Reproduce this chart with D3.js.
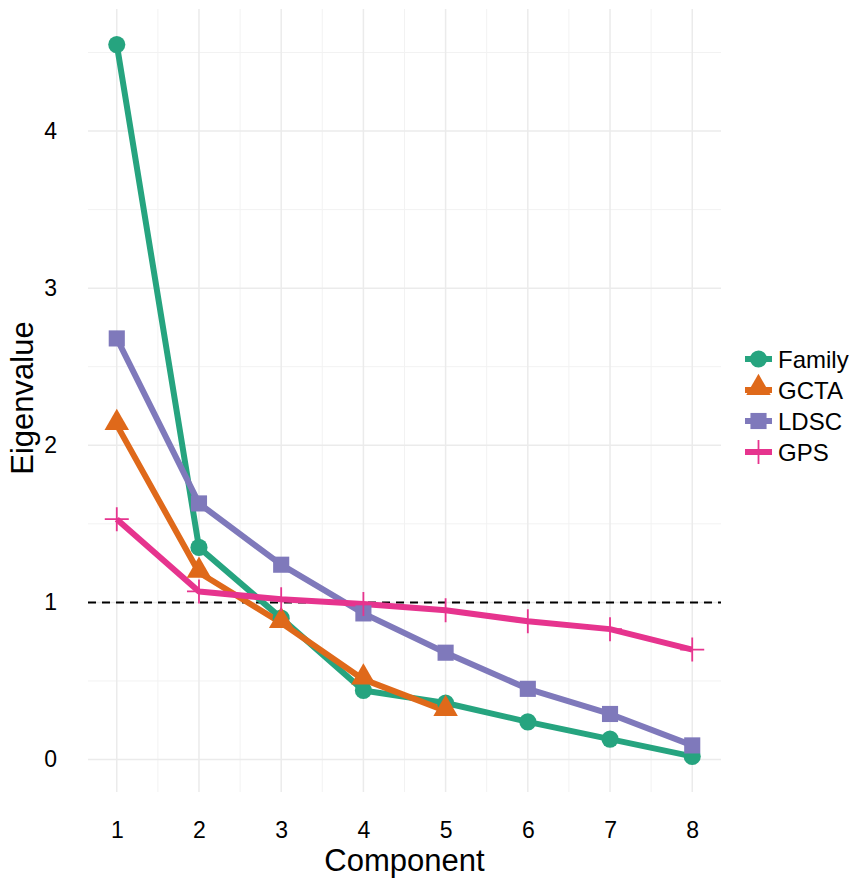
<!DOCTYPE html>
<html>
  <head>
    <script src="https://d3js.org/d3.v7.min.js"></script>
    <style>
      body { margin: 0; background: #fff; }
      text { font-family: "Liberation Sans", Arial, sans-serif; fill: #000; }
    </style>
  </head>
  <body>
    <script>
      // values
      var components = [1, 2, 3, 4, 5, 6, 7, 8];
      var seriesNames = ["Family", "GCTA", "LDSC", "GPS"];
      var family = [4.55, 1.35, 0.90, 0.44, 0.36, 0.24, 0.13, 0.02];
      var gcta = [2.13, 1.19, 0.87, 0.51, 0.31];
      var ldsc = [2.68, 1.63, 1.24, 0.93, 0.68, 0.45, 0.29, 0.09];
      var gps = [1.53, 1.07, 1.02, 0.99, 0.95, 0.88, 0.83, 0.70];
      var yTicks = [0, 1, 2, 3, 4];
      var colors = ["#26A47F", "#DF691A", "#7F79BB", "#E6348E"];
      var threshold = 1;

      var series = [family, gcta, ldsc, gps].map(function(vals, i) {
        return {
          name: seriesNames[i],
          color: colors[i],
          values: vals.map(function(v, j) { return { x: components[j], y: v }; })
        };
      });

      var W = 854, H = 879;
      var margin = { top: 9, right: 133, bottom: 87, left: 88 };
      var width = W - margin.left - margin.right,
          height = H - margin.top - margin.bottom;

      var svg = d3.select("body").append("svg")
        .attr("width", W)
        .attr("height", H);

      var g = svg.append("g")
        .attr("transform", "translate(" + margin.left + "," + margin.top + ")");

      // ggplot-like expansion
      var allY = d3.merge([family, gcta, ldsc, gps]);
      var yMin = d3.min(allY), yMax = d3.max(allY);
      var yPad = (yMax - yMin) * 0.05;
      var x = d3.scaleLinear().domain([1 - 0.35, 8 + 0.35]).range([0, width]);
      var y = d3.scaleLinear().domain([yMin - yPad, yMax + yPad]).range([height, 0]);

      // grid: minor then major
      var xMinor = d3.range(1.5, 8, 1);
      var yMinor = d3.range(0.5, 4.6, 1);
      g.selectAll(".gx-minor").data(xMinor).enter().append("line")
        .attr("x1", function(d) { return x(d); }).attr("x2", function(d) { return x(d); })
        .attr("y1", 0).attr("y2", height)
        .attr("stroke", "#f2f2f2").attr("stroke-width", 1);
      g.selectAll(".gy-minor").data(yMinor).enter().append("line")
        .attr("y1", function(d) { return y(d); }).attr("y2", function(d) { return y(d); })
        .attr("x1", 0).attr("x2", width)
        .attr("stroke", "#f2f2f2").attr("stroke-width", 1);
      g.selectAll(".gx").data(components).enter().append("line")
        .attr("x1", function(d) { return x(d); }).attr("x2", function(d) { return x(d); })
        .attr("y1", 0).attr("y2", height)
        .attr("stroke", "#ebebeb").attr("stroke-width", 1.5);
      g.selectAll(".gy").data(yTicks).enter().append("line")
        .attr("y1", function(d) { return y(d); }).attr("y2", function(d) { return y(d); })
        .attr("x1", 0).attr("x2", width)
        .attr("stroke", "#ebebeb").attr("stroke-width", 1.5);

      // axes (labels only)
      var xAxis = g.append("g")
        .attr("transform", "translate(0," + height + ")")
        .call(d3.axisBottom(x).tickValues(components).tickFormat(d3.format("d")).tickSize(0).tickPadding(30));
      var yAxis = g.append("g")
        .call(d3.axisLeft(y).tickValues(yTicks).tickFormat(d3.format("d")).tickSize(0).tickPadding(31));
      [xAxis, yAxis].forEach(function(a) {
        a.select(".domain").remove();
        a.selectAll("text").attr("font-size", 23).attr("font-family", "Liberation Sans, Arial, sans-serif").attr("fill", "#000");
      });

      // threshold line
      g.append("line")
        .attr("x1", 0).attr("x2", width)
        .attr("y1", y(threshold)).attr("y2", y(threshold))
        .attr("stroke", "#000").attr("stroke-width", 2)
        .attr("stroke-dasharray", "8,6");

      var line = d3.line().x(function(d) { return x(d.x); }).y(function(d) { return y(d.y); });

      g.selectAll(".series").data(series).enter().append("path")
        .attr("d", function(d) { return line(d.values); })
        .attr("fill", "none")
        .attr("stroke", function(d) { return d.color; })
        .attr("stroke-width", 6)
        .attr("stroke-linejoin", "round");

      var symbols = [d3.symbolCircle, d3.symbolTriangle, d3.symbolSquare, null];
      var sizes = [230, 260, 260, 0];

      function drawMarker(sel, i, color) {
        if (symbols[i]) {
          var s = sel.append("path")
            .attr("d", d3.symbol().type(symbols[i]).size(sizes[i])())
            .attr("fill", color);
          if (i === 1) s.attr("transform", "translate(0,-2)");
        } else {
          sel.append("path")
            .attr("d", "M-12,0H12M0,-12V12")
            .attr("stroke", color).attr("stroke-width", 1.8).attr("fill", "none");
        }
      }

      series.forEach(function(s, i) {
        g.selectAll(".pt" + i).data(s.values).enter().append("g")
          .attr("transform", function(d) { return "translate(" + x(d.x) + "," + y(d.y) + ")"; })
          .each(function() { drawMarker(d3.select(this), i, s.color); });
      });

      // axis titles
      svg.append("text")
        .attr("x", margin.left + width / 2).attr("y", 871)
        .attr("text-anchor", "middle").attr("font-size", 31)
        .text("Component");
      svg.append("text")
        .attr("transform", "translate(33,398) rotate(-90)")
        .attr("text-anchor", "middle").attr("font-size", 31)
        .text("Eigenvalue");

      // legend
      var legend = svg.append("g").attr("transform", "translate(745,359)");
      series.forEach(function(s, i) {
        var row = legend.append("g").attr("transform", "translate(0," + (i * 31) + ")");
        row.append("line").attr("x1", 0).attr("x2", 27).attr("y1", 0).attr("y2", 0)
          .attr("stroke", s.color).attr("stroke-width", 6);
        var m = row.append("g").attr("transform", "translate(13.5,0)");
        drawMarker(m, i, s.color);
        row.append("text").attr("x", 33).attr("y", 8.5)
          .attr("font-size", 24).text(s.name);
      });
    </script>
  </body>
</html>
